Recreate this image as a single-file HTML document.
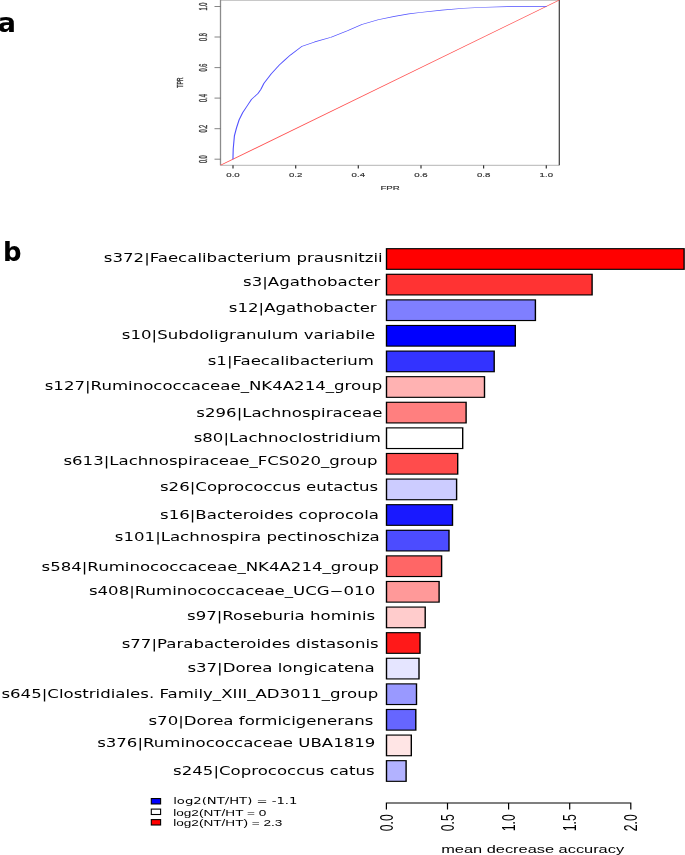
<!DOCTYPE html>
<html><head><meta charset="utf-8"><title>figure</title>
<style>
html,body{margin:0;padding:0;background:#fff;}
svg{display:block;}
.dj{font-family:"DejaVu Sans","Liberation Sans",sans-serif;}
.lb{font-family:"Liberation Sans",sans-serif;}
</style></head><body>
<svg width="685" height="855" viewBox="0 0 685 855">
<rect width="685" height="855" fill="#fff"/>
<text class="dj" x="-2.3" y="32" font-size="27" font-weight="bold" fill="#000">a</text>
<text class="dj" x="3.0" y="261.1" font-size="25.9" font-weight="bold" fill="#000">b</text>
<g id="roc">
<line x1="220.5" y1="0.3" x2="559.3" y2="0.3" stroke="#c8c8c8" stroke-width="1.2"/>
<line x1="220.5" y1="0" x2="220.5" y2="165.3" stroke="#8c8c8c" stroke-width="1.3"/>
<line x1="220.5" y1="165.3" x2="559.3" y2="165.3" stroke="#b4b4b4" stroke-width="1"/>
<line x1="559.3" y1="0" x2="559.3" y2="165.3" stroke="#3c3c3c" stroke-width="1.2"/>
<line x1="233.0" y1="165.3" x2="233.0" y2="168.5" stroke="#333" stroke-width="1.2"/>
<line x1="214.5" y1="159.2" x2="220.5" y2="159.2" stroke="#666" stroke-width="0.8"/>
<text class="lb" transform="translate(233.0,176.9) scale(1.72,1)" text-anchor="middle" font-size="5.6" fill="#333" stroke="#333" stroke-width="0.15">0.0</text>
<text class="lb" transform="translate(206.8,159.2) scale(1.9,1) rotate(-90)" text-anchor="middle" font-size="5.6" fill="#333" stroke="#333" stroke-width="0.2">0.0</text>
<line x1="295.7" y1="165.3" x2="295.7" y2="168.5" stroke="#333" stroke-width="1.2"/>
<line x1="214.5" y1="128.7" x2="220.5" y2="128.7" stroke="#666" stroke-width="0.8"/>
<text class="lb" transform="translate(295.7,176.9) scale(1.72,1)" text-anchor="middle" font-size="5.6" fill="#333" stroke="#333" stroke-width="0.15">0.2</text>
<text class="lb" transform="translate(206.8,128.7) scale(1.9,1) rotate(-90)" text-anchor="middle" font-size="5.6" fill="#333" stroke="#333" stroke-width="0.2">0.2</text>
<line x1="358.3" y1="165.3" x2="358.3" y2="168.5" stroke="#333" stroke-width="1.2"/>
<line x1="214.5" y1="98.1" x2="220.5" y2="98.1" stroke="#666" stroke-width="0.8"/>
<text class="lb" transform="translate(358.3,176.9) scale(1.72,1)" text-anchor="middle" font-size="5.6" fill="#333" stroke="#333" stroke-width="0.15">0.4</text>
<text class="lb" transform="translate(206.8,98.1) scale(1.9,1) rotate(-90)" text-anchor="middle" font-size="5.6" fill="#333" stroke="#333" stroke-width="0.2">0.4</text>
<line x1="421.0" y1="165.3" x2="421.0" y2="168.5" stroke="#333" stroke-width="1.2"/>
<line x1="214.5" y1="67.6" x2="220.5" y2="67.6" stroke="#666" stroke-width="0.8"/>
<text class="lb" transform="translate(421.0,176.9) scale(1.72,1)" text-anchor="middle" font-size="5.6" fill="#333" stroke="#333" stroke-width="0.15">0.6</text>
<text class="lb" transform="translate(206.8,67.6) scale(1.9,1) rotate(-90)" text-anchor="middle" font-size="5.6" fill="#333" stroke="#333" stroke-width="0.2">0.6</text>
<line x1="483.6" y1="165.3" x2="483.6" y2="168.5" stroke="#333" stroke-width="1.2"/>
<line x1="214.5" y1="37.0" x2="220.5" y2="37.0" stroke="#666" stroke-width="0.8"/>
<text class="lb" transform="translate(483.6,176.9) scale(1.72,1)" text-anchor="middle" font-size="5.6" fill="#333" stroke="#333" stroke-width="0.15">0.8</text>
<text class="lb" transform="translate(206.8,37.0) scale(1.9,1) rotate(-90)" text-anchor="middle" font-size="5.6" fill="#333" stroke="#333" stroke-width="0.2">0.8</text>
<line x1="546.3" y1="165.3" x2="546.3" y2="168.5" stroke="#333" stroke-width="1.2"/>
<line x1="214.5" y1="6.5" x2="220.5" y2="6.5" stroke="#666" stroke-width="0.8"/>
<text class="lb" transform="translate(546.3,176.9) scale(1.72,1)" text-anchor="middle" font-size="5.6" fill="#333" stroke="#333" stroke-width="0.15">1.0</text>
<text class="lb" transform="translate(206.8,6.5) scale(1.9,1) rotate(-90)" text-anchor="middle" font-size="5.6" fill="#333" stroke="#333" stroke-width="0.2">1.0</text>
<text class="lb" transform="translate(390.1,189.8) scale(1.62,1)" text-anchor="middle" font-size="6" fill="#333" stroke="#333" stroke-width="0.15">FPR</text>
<text class="lb" transform="translate(182.8,82.6) scale(1.78,1) rotate(-90)" text-anchor="middle" font-size="5.15" fill="#333" stroke="#333" stroke-width="0.2">TPR</text>
<g transform="scale(1.8,1)">
<line x1="122.50" y1="165.3" x2="310.72" y2="0.1" stroke="#ff5050" stroke-width="0.62"/>
<polyline fill="none" stroke="#5050ff" stroke-width="0.62" stroke-linejoin="round" points="129.42,159.3 129.56,149.1 130.22,135.9 131.39,127.9 132.83,119.9 134.83,112.6 137.28,106.0 139.72,99.4 143.39,93.3 145.00,89.2 146.61,83.4 150.67,73.9 155.11,65.1 158.22,60.0 161.22,55.2 167.50,46.6 174.83,41.9 183.94,37.2 193.00,30.7 201.00,24.5 210.06,19.8 219.17,16.4 227.11,13.9 233.33,12.5 245.50,10.1 257.67,8.3 269.83,7.2 282.00,6.6 294.17,6.4 303.67,6.4"/>
</g>
</g>
<g id="bars">
<rect x="385.80" y="248.10" width="299.00" height="21.8" fill="#000"/>
<rect x="387.20" y="249.25" width="296.20" height="19.50" fill="#ff0000"/>
<text class="dj" id="l0" transform="translate(382.67,262.30) scale(1.443,1)" text-anchor="end" font-size="11.5" fill="#000">s372|Faecalibacterium prausnitzii</text>
<rect x="385.80" y="273.70" width="207.00" height="21.8" fill="#000"/>
<rect x="387.20" y="274.85" width="204.20" height="19.50" fill="#ff3333"/>
<text class="dj" id="l1" transform="translate(380.39,286.00) scale(1.443,1)" text-anchor="end" font-size="11.5" fill="#000">s3|Agathobacter</text>
<rect x="385.80" y="299.30" width="150.30" height="21.8" fill="#000"/>
<rect x="387.20" y="300.45" width="147.50" height="19.50" fill="#7f7fff"/>
<text class="dj" id="l2" transform="translate(376.66,312.10) scale(1.443,1)" text-anchor="end" font-size="11.5" fill="#000">s12|Agathobacter</text>
<rect x="385.80" y="324.90" width="130.20" height="21.8" fill="#000"/>
<rect x="387.20" y="326.05" width="127.40" height="19.50" fill="#0000ff"/>
<text class="dj" id="l3" transform="translate(375.16,338.60) scale(1.443,1)" text-anchor="end" font-size="11.5" fill="#000">s10|Subdoligranulum variabile</text>
<rect x="385.80" y="350.50" width="109.10" height="21.8" fill="#000"/>
<rect x="387.20" y="351.65" width="106.30" height="19.50" fill="#3333ff"/>
<text class="dj" id="l4" transform="translate(373.96,365.30) scale(1.443,1)" text-anchor="end" font-size="11.5" fill="#000">s1|Faecalibacterium</text>
<rect x="385.80" y="376.10" width="99.40" height="21.8" fill="#000"/>
<rect x="387.20" y="377.25" width="96.60" height="19.50" fill="#ffb2b2"/>
<text class="dj" id="l5" transform="translate(382.22,389.60) scale(1.443,1)" text-anchor="end" font-size="11.5" fill="#000">s127|Ruminococcaceae_NK4A214_group</text>
<rect x="385.80" y="401.70" width="81.00" height="21.8" fill="#000"/>
<rect x="387.20" y="402.85" width="78.20" height="19.50" fill="#ff7f7f"/>
<text class="dj" id="l6" transform="translate(382.34,416.90) scale(1.443,1)" text-anchor="end" font-size="11.5" fill="#000">s296|Lachnospiraceae</text>
<rect x="385.80" y="427.30" width="77.60" height="21.8" fill="#000"/>
<rect x="387.20" y="428.45" width="74.80" height="19.50" fill="#ffffff"/>
<text class="dj" id="l7" transform="translate(380.92,441.70) scale(1.443,1)" text-anchor="end" font-size="11.5" fill="#000">s80|Lachnoclostridium</text>
<rect x="385.80" y="452.90" width="72.60" height="21.8" fill="#000"/>
<rect x="387.20" y="454.05" width="69.80" height="19.50" fill="#ff4c4c"/>
<text class="dj" id="l8" transform="translate(377.45,465.10) scale(1.443,1)" text-anchor="end" font-size="11.5" fill="#000">s613|Lachnospiraceae_FCS020_group</text>
<rect x="385.80" y="478.50" width="71.50" height="21.8" fill="#000"/>
<rect x="387.20" y="479.65" width="68.70" height="19.50" fill="#ccccff"/>
<text class="dj" id="l9" transform="translate(378.21,491.45) scale(1.443,1)" text-anchor="end" font-size="11.5" fill="#000">s26|Coprococcus eutactus</text>
<rect x="385.80" y="504.10" width="67.40" height="21.8" fill="#000"/>
<rect x="387.20" y="505.25" width="64.60" height="19.50" fill="#1919ff"/>
<text class="dj" id="l10" transform="translate(378.97,518.90) scale(1.443,1)" text-anchor="end" font-size="11.5" fill="#000">s16|Bacteroides coprocola</text>
<rect x="385.80" y="529.70" width="63.90" height="21.8" fill="#000"/>
<rect x="387.20" y="530.85" width="61.10" height="19.50" fill="#4c4cff"/>
<text class="dj" id="l11" transform="translate(379.78,541.40) scale(1.443,1)" text-anchor="end" font-size="11.5" fill="#000">s101|Lachnospira pectinoschiza</text>
<rect x="385.80" y="555.30" width="56.50" height="21.8" fill="#000"/>
<rect x="387.20" y="556.45" width="53.70" height="19.50" fill="#ff6666"/>
<text class="dj" id="l12" transform="translate(378.98,570.60) scale(1.443,1)" text-anchor="end" font-size="11.5" fill="#000">s584|Ruminococcaceae_NK4A214_group</text>
<rect x="385.80" y="580.90" width="54.00" height="21.8" fill="#000"/>
<rect x="387.20" y="582.05" width="51.20" height="19.50" fill="#ff9999"/>
<text class="dj" id="l13" transform="translate(375.22,595.00) scale(1.443,1)" text-anchor="end" font-size="11.5" fill="#000">s408|Ruminococcaceae_UCG−010</text>
<rect x="385.80" y="606.50" width="40.10" height="21.8" fill="#000"/>
<rect x="387.20" y="607.65" width="37.30" height="19.50" fill="#ffcccc"/>
<text class="dj" id="l14" transform="translate(375.15,619.90) scale(1.443,1)" text-anchor="end" font-size="11.5" fill="#000">s97|Roseburia hominis</text>
<rect x="385.80" y="632.10" width="34.90" height="21.8" fill="#000"/>
<rect x="387.20" y="633.25" width="32.10" height="19.50" fill="#ff1919"/>
<text class="dj" id="l15" transform="translate(378.72,647.70) scale(1.443,1)" text-anchor="end" font-size="11.5" fill="#000">s77|Parabacteroides distasonis</text>
<rect x="385.80" y="657.70" width="33.90" height="21.8" fill="#000"/>
<rect x="387.20" y="658.85" width="31.10" height="19.50" fill="#e5e5ff"/>
<text class="dj" id="l16" transform="translate(374.76,672.30) scale(1.443,1)" text-anchor="end" font-size="11.5" fill="#000">s37|Dorea longicatena</text>
<rect x="385.80" y="683.30" width="31.40" height="21.8" fill="#000"/>
<rect x="387.20" y="684.45" width="28.60" height="19.50" fill="#9999ff"/>
<text class="dj" id="l17" transform="translate(378.22,698.20) scale(1.443,1)" text-anchor="end" font-size="11.5" fill="#000">s645|Clostridiales. Family_XIII_AD3011_group</text>
<rect x="385.80" y="708.90" width="30.70" height="21.8" fill="#000"/>
<rect x="387.20" y="710.05" width="27.90" height="19.50" fill="#6666ff"/>
<text class="dj" id="l18" transform="translate(373.38,725.00) scale(1.443,1)" text-anchor="end" font-size="11.5" fill="#000">s70|Dorea formicigenerans</text>
<rect x="385.80" y="734.50" width="26.20" height="21.8" fill="#000"/>
<rect x="387.20" y="735.65" width="23.40" height="19.50" fill="#ffe5e5"/>
<text class="dj" id="l19" transform="translate(375.38,747.20) scale(1.443,1)" text-anchor="end" font-size="11.5" fill="#000">s376|Ruminococcaceae UBA1819</text>
<rect x="385.80" y="760.10" width="21.00" height="21.8" fill="#000"/>
<rect x="387.20" y="761.25" width="18.20" height="19.50" fill="#b2b2ff"/>
<text class="dj" id="l20" transform="translate(374.68,775.30) scale(1.443,1)" text-anchor="end" font-size="11.5" fill="#000">s245|Coprococcus catus</text>
</g>
<path d="M386.4,809.5 V803.0 H630.8 V809.5" fill="none" stroke="#000" stroke-width="1.2"/>
<text class="lb" transform="translate(392.6,814.2) scale(1.42,1) rotate(-90)" text-anchor="end" font-size="12.3" fill="#000">0.0</text>
<line x1="447.5" y1="803.0" x2="447.5" y2="809.5" stroke="#000" stroke-width="1.2"/>
<text class="lb" transform="translate(453.7,814.2) scale(1.42,1) rotate(-90)" text-anchor="end" font-size="12.3" fill="#000">0.5</text>
<line x1="508.6" y1="803.0" x2="508.6" y2="809.5" stroke="#000" stroke-width="1.2"/>
<text class="lb" transform="translate(514.8,814.2) scale(1.42,1) rotate(-90)" text-anchor="end" font-size="12.3" fill="#000">1.0</text>
<line x1="569.7" y1="803.0" x2="569.7" y2="809.5" stroke="#000" stroke-width="1.2"/>
<text class="lb" transform="translate(575.9,814.2) scale(1.42,1) rotate(-90)" text-anchor="end" font-size="12.3" fill="#000">1.5</text>
<text class="lb" transform="translate(637.0,814.2) scale(1.42,1) rotate(-90)" text-anchor="end" font-size="12.3" fill="#000">2.0</text>
<text class="lb" transform="translate(441.2,852.7) scale(1.56,1)" font-size="10.5" fill="#000">mean decrease accuracy</text>
<rect x="151.3" y="798.55" width="9.3" height="5.4" fill="#0000ff" stroke="#000" stroke-width="1.1"/>
<rect x="151.3" y="809.10" width="9.3" height="5.4" fill="#ffffff" stroke="#000" stroke-width="1.1"/>
<rect x="151.3" y="819.60" width="9.3" height="5.4" fill="#ff0000" stroke="#000" stroke-width="1.1"/>
<text class="dj" transform="translate(173.2,804.2) scale(1.535,1)" font-size="8.6" fill="#000">log2(NT/HT) = -1.1</text>
<text class="lb" transform="translate(173.2,815.7) scale(1.62,1)" font-size="8.4" fill="#000">log2(NT/HT = 0</text>
<text class="lb" transform="translate(173.2,825.9) scale(1.62,1)" font-size="8.4" fill="#000">log2(NT/HT) = 2.3</text>
</svg>
</body></html>
